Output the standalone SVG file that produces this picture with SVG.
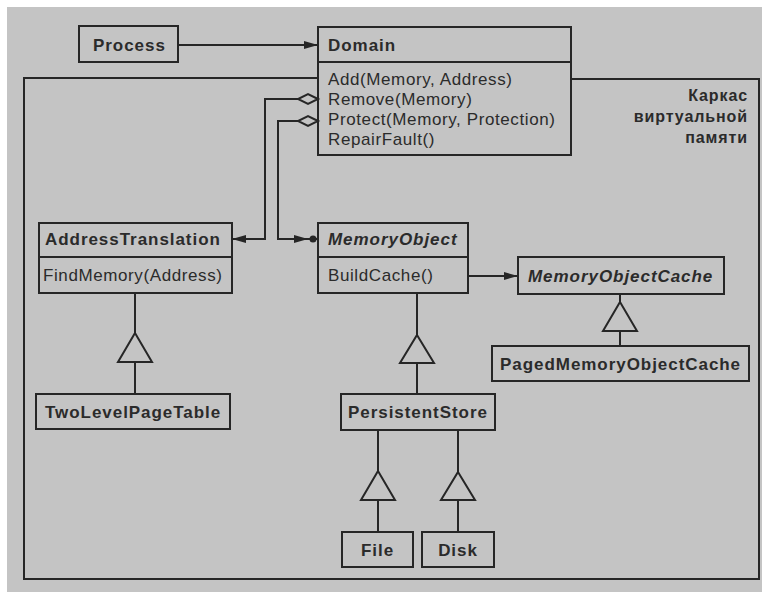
<svg xmlns="http://www.w3.org/2000/svg" width="762" height="592" viewBox="0 0 762 592">
<style>
.box{fill:none;stroke:#262626;stroke-width:2}
.ln{fill:none;stroke:#262626;stroke-width:2}
.tri{fill:#c4c4c4;stroke:#262626;stroke-width:2;stroke-linejoin:miter}
.dia{fill:#c4c4c4;stroke:#262626;stroke-width:2}
.t{font-family:"Liberation Sans",Arial,sans-serif;font-size:17px;fill:#2b2b2b;letter-spacing:0.6px}
.b{font-weight:bold;letter-spacing:0.95px}
.i{font-style:italic}
.lbl{font-family:"Liberation Sans",Arial,sans-serif;font-size:16px;font-weight:bold;fill:#2b2b2b;text-anchor:end;letter-spacing:0.9px}
</style>
<defs>
<marker id="arr" markerWidth="14" markerHeight="10" refX="13" refY="5" orient="auto" markerUnits="userSpaceOnUse">
<path d="M0,1 L14,5 L0,9 Z" fill="#262626"/>
</marker>
</defs>
<rect x="0" y="0" width="762" height="592" fill="#ffffff"/>
<rect x="7" y="7" width="755" height="585" fill="#c4c4c4"/>

<g id="connectors">
<polyline class="ln" points="318,78 24,78 24,579 759,579 759,79 571,79"/>
<line class="ln" x1="178" y1="45" x2="317" y2="45" marker-end="url(#arr)"/>
<polyline class="ln" points="298,99 265,99 265,239 233,239" marker-end="url(#arr)"/>
<path class="dia" d="M318,99 L308,94 L298,99 L308,104 Z"/>
<polyline class="ln" points="298,121 278,121 278,239 307,239" marker-end="url(#arr)"/>
<line class="ln" x1="307" y1="239" x2="318" y2="239"/>
<circle cx="313" cy="239" r="3.5" fill="#262626"/>
<path class="dia" d="M318,121 L308,116 L298,121 L308,126 Z"/>
<line class="ln" x1="468" y1="276" x2="517" y2="276" marker-end="url(#arr)"/>
<line class="ln" x1="135" y1="293" x2="135" y2="333"/>
<line class="ln" x1="135" y1="362" x2="135" y2="394"/>
<path class="tri" d="M135,333 L152,362 L118,362 Z"/>
<line class="ln" x1="417" y1="293" x2="417" y2="335"/>
<line class="ln" x1="417" y1="363" x2="417" y2="394"/>
<path class="tri" d="M417,335 L434,363 L400,363 Z"/>
<line class="ln" x1="620" y1="294" x2="620" y2="302"/>
<line class="ln" x1="620" y1="331" x2="620" y2="346"/>
<path class="tri" d="M620,302 L637,331 L603,331 Z"/>
<line class="ln" x1="378" y1="430" x2="378" y2="471"/>
<line class="ln" x1="378" y1="500" x2="378" y2="532"/>
<path class="tri" d="M378,471 L395,500 L361,500 Z"/>
<line class="ln" x1="458" y1="430" x2="458" y2="472"/>
<line class="ln" x1="458" y1="500" x2="458" y2="532"/>
<path class="tri" d="M458,472 L475,500 L441,500 Z"/>
</g>

<g id="process">
<rect class="box" x="79" y="26" width="99" height="36"/>
<text class="t b" x="93" y="51">Process</text>
</g>

<g id="domain">
<rect class="box" x="318" y="27" width="253" height="128"/>
<line class="ln" x1="318" y1="62" x2="571" y2="62"/>
<text class="t b" x="328" y="51">Domain</text>
<text class="t" x="328" y="85">Add(Memory, Address)</text>
<text class="t" x="328" y="105">Remove(Memory)</text>
<text class="t" x="328" y="125">Protect(Memory, Protection)</text>
<text class="t" x="328" y="145">RepairFault()</text>
</g>

<g id="frame-label">
<text class="lbl" x="748" y="101">Каркас</text>
<text class="lbl" x="748" y="122">виртуальной</text>
<text class="lbl" x="748" y="143">памяти</text>
</g>

<g id="addresstranslation">
<rect class="box" x="39" y="223" width="193" height="70"/>
<line class="ln" x1="39" y1="257" x2="232" y2="257"/>
<text class="t b" x="45" y="245">AddressTranslation</text>
<text class="t" x="43" y="281">FindMemory(Address)</text>
</g>

<g id="memoryobject">
<rect class="box" x="318" y="223" width="150" height="70"/>
<line class="ln" x1="318" y1="257" x2="468" y2="257"/>
<text class="t b i" x="328" y="245">MemoryObject</text>
<text class="t" x="328" y="281">BuildCache()</text>
</g>

<g id="memoryobjectcache">
<rect class="box" x="518" y="257" width="206" height="37"/>
<text class="t b i" x="528" y="282">MemoryObjectCache</text>
</g>

<g id="twolevelpagetable">
<rect class="box" x="36" y="394" width="194" height="35"/>
<text class="t b" x="45" y="418">TwoLevelPageTable</text>
</g>

<g id="persistentstore">
<rect class="box" x="341" y="394" width="154" height="36"/>
<text class="t b" x="348" y="418">PersistentStore</text>
</g>

<g id="pagedmemoryobjectcache">
<rect class="box" x="492" y="346" width="257" height="35"/>
<text class="t b" x="500" y="370">PagedMemoryObjectCache</text>
</g>

<g id="file">
<rect class="box" x="342" y="532" width="71" height="35"/>
<text class="t b" x="377.5" y="556" text-anchor="middle">File</text>
</g>

<g id="disk">
<rect class="box" x="422" y="532" width="72" height="35"/>
<text class="t b" x="458" y="556" text-anchor="middle">Disk</text>
</g>
</svg>
